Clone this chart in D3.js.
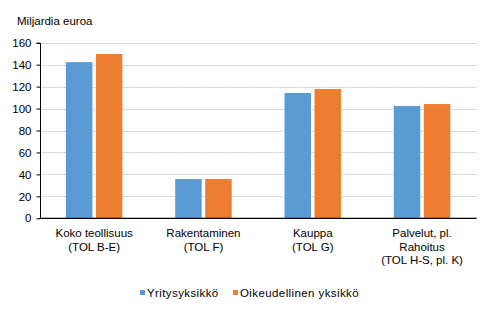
<!DOCTYPE html>
<html>
<head>
<meta charset="utf-8">
<script src="https://cdn.jsdelivr.net/npm/d3@7"></script>
<style>
  html, body { margin: 0; padding: 0; background: #fff; }
  svg { display: block; font-family: "Liberation Sans", Arial, sans-serif; }
</style>
</head>
<body>
<svg id="chart" width="491" height="331"></svg>
<script>
// Categories (multi-line labels)
const categories = [
  ["Koko teollisuus", "(TOL B-E)"],
  ["Rakentaminen", "(TOL F)"],
  ["Kauppa", "(TOL G)"],
  ["Palvelut, pl.", "Rahoitus", "(TOL H-S, pl. K)"]
];
const seriesNames = ["Yritysyksikkö", "Oikeudellinen yksikkö"];
const yritys = [142.3, 35.8, 114.2, 102.3];
const oikeudellinen = [149.7, 35.8, 117.8, 104.1];
const yTicks = [0, 20, 40, 60, 80, 100, 120, 140, 160];
const colors = ["#5B9BD5", "#ED7D31"];
const yTitle = "Miljardia euroa";

const svg = d3.select("#chart");
const margin = { left: 39.5, right: 14.3, top: 42.7, bottom: 112.7 };
const W = 491, H = 331;

const x = d3.scaleBand()
  .domain(d3.range(categories.length))
  .range([margin.left, W - margin.right]);
const y = d3.scaleLinear().domain([0, 160]).range([H - margin.bottom, margin.top]);

// Gridlines
svg.append("g")
  .selectAll("line")
  .data(yTicks.filter(d => d > 0))
  .join("line")
  .attr("x1", margin.left).attr("x2", W - margin.right)
  .attr("y1", d => Math.round(y(d)) + 0.5).attr("y2", d => Math.round(y(d)) + 0.5)
  .attr("stroke", "#c8c8c8").attr("stroke-width", 1)
  .attr("stroke-dasharray", "2,1");

// Bars
const bw = 26.5, gap = 3.5;
const series = [yritys, oikeudellinen];
series.forEach((vals, si) => {
  svg.append("g").selectAll("rect")
    .data(vals)
    .join("rect")
    .attr("x", (d, i) => x(i) + x.bandwidth() / 2 - gap / 2 - bw + si * (bw + gap))
    .attr("width", bw)
    .attr("y", d => y(d))
    .attr("height", d => y(0) - y(d))
    .attr("fill", colors[si]);
});

// Y axis
const yAxis = d3.axisLeft(y).tickValues(yTicks).tickSize(4).tickPadding(5);
const ya = svg.append("g")
  .attr("transform", `translate(${Math.round(margin.left) + 0.5},0)`)
  .call(yAxis);
ya.select(".domain").attr("stroke", "#000").attr("d", `M-4,${Math.round(y(160))+0.5}H0V${y(0)}`);
ya.selectAll(".tick line").attr("stroke", "#000");
ya.selectAll(".tick text")
  .attr("font-size", 11.5)
  .attr("font-family", "Liberation Sans, Arial, sans-serif")
  .attr("fill", "#000");

// Baseline
svg.append("line")
  .attr("x1", margin.left).attr("x2", W - margin.right)
  .attr("y1", y(0)).attr("y2", y(0))
  .attr("stroke", "#000").attr("stroke-width", 1.2);

// Y title
svg.append("text")
  .attr("x", 17).attr("y", 25)
  .attr("font-size", 11.5)
  .text(yTitle);

// Category labels
const catG = svg.append("g");
categories.forEach((lines, i) => {
  const t = catG.append("text")
    .attr("text-anchor", "middle")
    .attr("font-size", 11.5)
    .attr("x", x(i) + x.bandwidth() / 2)
    .attr("y", 237);
  lines.forEach((ln, k) => {
    t.append("tspan")
      .attr("x", x(i) + x.bandwidth() / 2)
      .attr("dy", k === 0 ? 0 : 13.5)
      .text(ln);
  });
});

// Legend
const legendItems = [
  { name: seriesNames[0], color: colors[0], x: 140 },
  { name: seriesNames[1], color: colors[1], x: 233 }
];
const lg = svg.append("g");
legendItems.forEach(it => {
  lg.append("rect").attr("x", it.x).attr("y", 290).attr("width", 5).attr("height", 5).attr("fill", it.color);
  lg.append("text").attr("x", it.x + 7).attr("y", 297)
    .attr("font-size", 11.5)
    .attr("letter-spacing", 0.4)
    .text(it.name);
});
</script>
</body>
</html>
